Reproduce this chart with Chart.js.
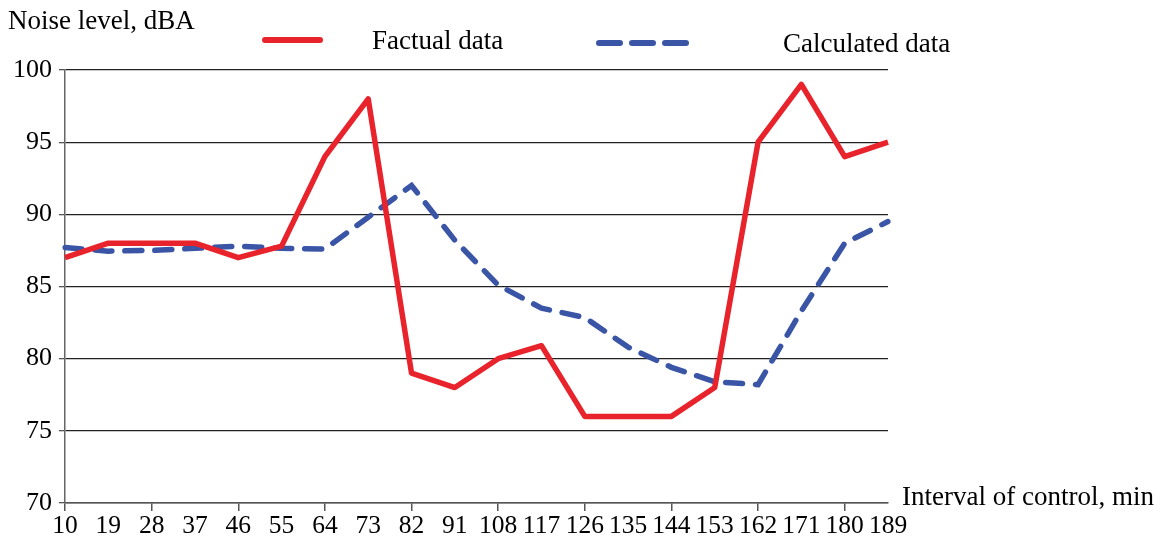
<!DOCTYPE html>
<html>
<head>
<meta charset="utf-8">
<script src="https://cdn.jsdelivr.net/npm/chart.js@4.4.1/dist/chart.umd.min.js"></script>
<style>
html,body{margin:0;padding:0;background:#fff;}
#wrap{width:1163px;height:544px;}
</style>
</head>
<body>
<div id="wrap"><canvas id="c" width="1163" height="544"></canvas></div>
<script>
const categories = ['10','19','28','37','46','55','64','73','82','91','108','117','126','135','144','153','162','171','180','189'];
const factualData = [87,88,88,88,87,87.8,94,98,79,78,80,80.9,76,76,76,78,95,99,94,95];
const calculatedData = [87.7,87.45,87.5,87.65,87.8,87.65,87.6,89.8,92,88.2,85.1,83.5,82.85,80.8,79.4,78.4,78.2,83.3,88,89.5];
const yTicks = [70,75,80,85,90,95,100];
const seriesNames = ['Factual data','Calculated data'];
const yTitle = 'Noise level, dBA';
const xTitle = 'Interval of control, min';

const FONT = 'Liberation Serif, Times New Roman, serif';
const RED = '#e8232b';
const BLUE = '#3a55a6';

const decor = {
  id: 'decor',
  afterDraw(chart) {
    const ctx = chart.ctx;
    ctx.save();
    ctx.fillStyle = '#000';
    ctx.font = '27px ' + FONT;
    ctx.textBaseline = 'alphabetic';
    ctx.textAlign = 'left';
    ctx.fillText(yTitle, 8, 29);
    ctx.fillText(xTitle, 902, 505);
    // legend
    const ds = chart.data.datasets;
    ctx.lineCap = 'round';
    ctx.strokeStyle = ds[0].borderColor;
    ctx.lineWidth = 6;
    ctx.setLineDash([]);
    ctx.beginPath(); ctx.moveTo(265, 40); ctx.lineTo(320, 40); ctx.stroke();
    ctx.fillText(ds[0].label, 372, 49);
    ctx.strokeStyle = ds[1].borderColor;
    ctx.setLineDash([21, 12]);
    ctx.beginPath(); ctx.moveTo(599, 43); ctx.lineTo(686, 43); ctx.stroke();
    ctx.setLineDash([]);
    ctx.fillText(ds[1].label, 783, 52);
    ctx.restore();
  }
};

new Chart(document.getElementById('c'), {
  type: 'line',
  data: {
    labels: categories,
    datasets: [
      { label: seriesNames[0], data: factualData, borderColor: RED, borderWidth: 5.5, pointRadius: 0, tension: 0, fill: false, borderJoinStyle: 'round', order: 0 },
      { label: seriesNames[1], data: calculatedData, borderColor: BLUE, borderWidth: 5.5, borderDash: [17, 13], borderCapStyle: 'round', pointRadius: 0, tension: 0, fill: false, order: 1 }
    ]
  },
  options: {
    responsive: false,
    devicePixelRatio: 1,
    animation: false,
    layout: { padding: { left: 0, top: 70, right: 275, bottom: 0 } },
    plugins: { legend: { display: false }, tooltip: { enabled: false }, title: { display: false } },
    scales: {
      x: {
        type: 'category',
        offset: false,
        afterFit(s) { s.height = 41; },
        grid: {
          drawOnChartArea: false, drawTicks: true, tickLength: 8, lineWidth: 1.5,
          tickColor: (c) => (c.index % 2 === 0 ? '#555' : 'rgba(0,0,0,0)')
        },
        border: { color: '#555', width: 1.5 },
        ticks: { autoSkip: false, maxRotation: 0, minRotation: 0, color: '#000', padding: 0, font: { family: FONT, size: 25.5 } }
      },
      y: {
        min: 70, max: 100,
        afterFit(s) { s.width = 65; },
        afterBuildTicks(s) { s.ticks = yTicks.map(v => ({ value: v })); },
        grid: { color: '#222', lineWidth: 1.3, tickLength: 6, tickColor: '#555' },
        border: { color: '#666', width: 1.5 },
        ticks: { color: '#000', padding: 7, font: { family: FONT, size: 26 } }
      }
    }
  },
  plugins: [decor]
});
</script>
</body>
</html>
